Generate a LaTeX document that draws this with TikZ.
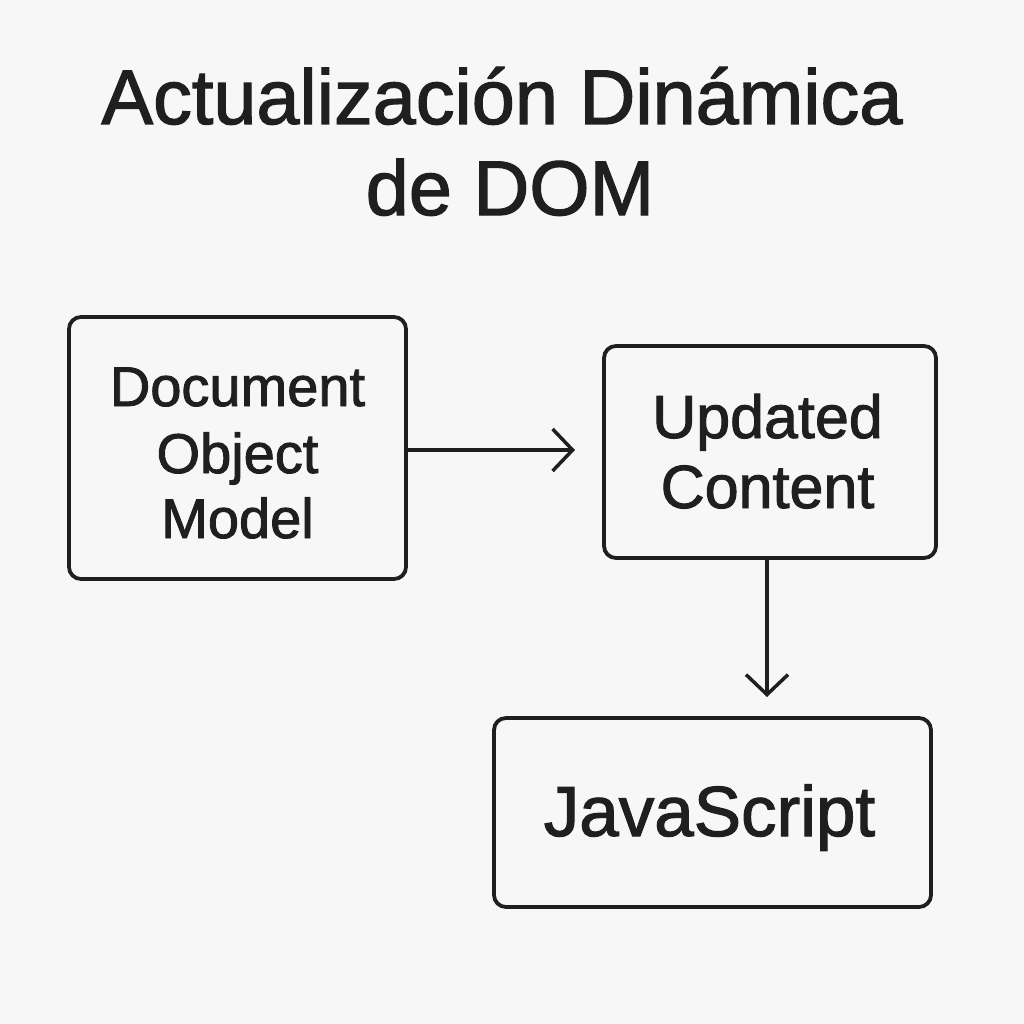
\documentclass[tikz,border=0pt]{standalone}
\usepackage{fontspec}
\setmainfont{Liberation Sans}[FakeBold=1.6]
\usetikzlibrary{arrows.meta}
\definecolor{ink}{HTML}{1E1F21}
\definecolor{bg}{HTML}{F7F7F7}
\begin{document}
\begin{tikzpicture}[x=1pt,y=-1pt,
  box/.style={draw=ink, line width=3.8pt, rounded corners=12pt, inner sep=0pt, fill=none},
  conn/.style={draw=ink, line width=3.5pt, -{Straight Barb[length=20pt,width=42pt,line width=3.5pt]}},
  lbl/.style={anchor=base, text=ink, inner sep=0pt}]
\fill[bg] (0,0) rectangle (1024,1024);
\useasboundingbox (0,0) rectangle (1024,1024);
% title
\node[lbl, font=\fontsize{77.5}{80}\selectfont] (t1) at (502,124) {Actualización Dinámica};
\node[lbl, font=\fontsize{77.5}{80}\selectfont] (t2) at (510,215) {de DOM};
% boxes
\node[box, minimum width=337pt, minimum height=262pt] (dom) at (237.5,448) {};
\node[box, minimum width=332pt, minimum height=212pt] (upd) at (770,452) {};
\node[box, minimum width=437pt, minimum height=189pt] (js) at (712.5,812.5) {};
% texts
\node[lbl, font=\fontsize{56}{60}\selectfont] (dom1) at (237.5,406) {Document};
\node[lbl, font=\fontsize{56}{60}\selectfont] (dom2) at (237.5,473) {Object};
\node[lbl, font=\fontsize{56}{60}\selectfont] (dom3) at (237.5,538) {Model};
\node[lbl, font=\fontsize{61}{64}\selectfont] (upd1) at (767.5,438) {Updated};
\node[lbl, font=\fontsize{61}{64}\selectfont] (upd2) at (767.5,508) {Content};
\node[lbl, font=\fontsize{71}{74}\selectfont] (js1) at (709.5,836) {JavaScript};
% connectors
\coordinate (a1end) at (575,450);
\coordinate (a2end) at (767,697);
\draw[conn] (dom.east |- a1end) -- (a1end);
\draw[conn] (upd.south -| a2end) -- (a2end);
\end{tikzpicture}
\end{document}
